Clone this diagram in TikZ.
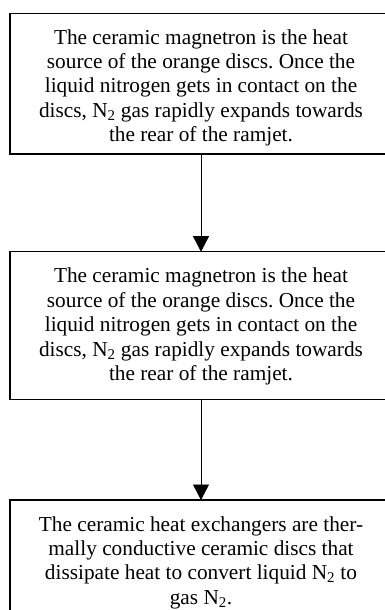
\documentclass[tikz,border=0pt]{standalone}
\usepackage{fontspec}
\setmainfont{Liberation Serif}
\usetikzlibrary{arrows.meta}
\frenchspacing
\begin{document}
\begin{tikzpicture}[x=1pt,y=-1pt,
  box/.style={draw=black,line width=1.3pt,minimum width=382pt,inner sep=0pt,outer sep=0pt},
  txt/.style={anchor=base,align=center,inner sep=0pt,font=\fontsize{21.3}{24.4}\selectfont},
  conn/.style={line width=0.8pt,-{Triangle[width=16pt,length=15.5pt]}}]
\useasboundingbox (0,0) rectangle (384,610);
\node[box,minimum height=140.7pt] (b1) at (201,83.65) {};
\node[box,minimum height=147.8pt] (b2) at (201,325.6) {};
\node[box,minimum height=140pt] (b3) at (201,570) {};
\node[txt] (t1) at (201,141.7) {The ceramic magnetron is the heat\\source of the orange discs. Once the\\liquid nitrogen gets in contact on the\\discs, N\textsubscript{2} gas rapidly expands towards\\the rear of the ramjet.};
\node[txt] (t2) at (201,380.4) {The ceramic magnetron is the heat\\source of the orange discs. Once the\\liquid nitrogen gets in contact on the\\discs, N\textsubscript{2} gas rapidly expands towards\\the rear of the ramjet.};
\node[txt] (t3) at (201,604.2) {The ceramic heat exchangers are ther-\\mally conductive ceramic discs that\\dissipate heat to convert liquid N\textsubscript{2} to\\gas N\textsubscript{2}.};
\draw[conn] (b1.south) -- (b2.north);
\draw[conn] (b2.south) -- (b3.north);
\end{tikzpicture}
\end{document}
